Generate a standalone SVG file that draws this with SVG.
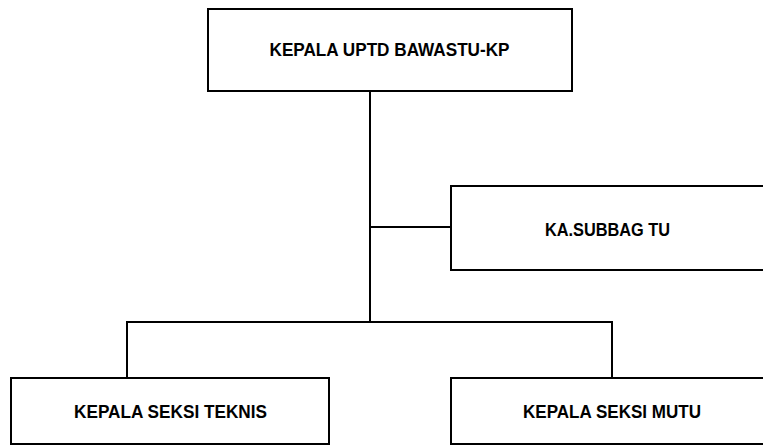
<svg xmlns="http://www.w3.org/2000/svg" width="763" height="445" viewBox="0 0 763 445">
<style>
.box{fill:#fff;stroke:#000;stroke-width:2}
.lbl{font-family:"Liberation Sans",Arial,sans-serif;font-weight:bold;font-size:18px;fill:#000}
.con{fill:none;stroke:#000;stroke-width:2}
</style>
<rect width="763" height="445" fill="#fff"/>
<g id="connectors">
<path class="con" d="M370 91V322"/>
<path class="con" d="M370 227H451"/>
<path class="con" d="M127 378V322H612V378"/>
</g>
<g id="kepala-uptd">
<rect class="box" x="208" y="9" width="364" height="82"/>
<text class="lbl" x="269.5" y="55.5" textLength="240" lengthAdjust="spacingAndGlyphs">KEPALA UPTD BAWASTU-KP</text>
</g>
<g id="ka-subbag-tu">
<rect class="box" x="451" y="186" width="316" height="84"/>
<text class="lbl" x="545" y="235.5" textLength="125" lengthAdjust="spacingAndGlyphs">KA.SUBBAG TU</text>
</g>
<g id="seksi-teknis">
<rect class="box" x="11" y="378" width="318" height="66"/>
<text class="lbl" x="74" y="418" textLength="193" lengthAdjust="spacingAndGlyphs">KEPALA SEKSI TEKNIS</text>
</g>
<g id="seksi-mutu">
<rect class="box" x="451" y="378" width="322" height="66"/>
<text class="lbl" x="523" y="418" textLength="178" lengthAdjust="spacingAndGlyphs">KEPALA SEKSI MUTU</text>
</g>
</svg>
